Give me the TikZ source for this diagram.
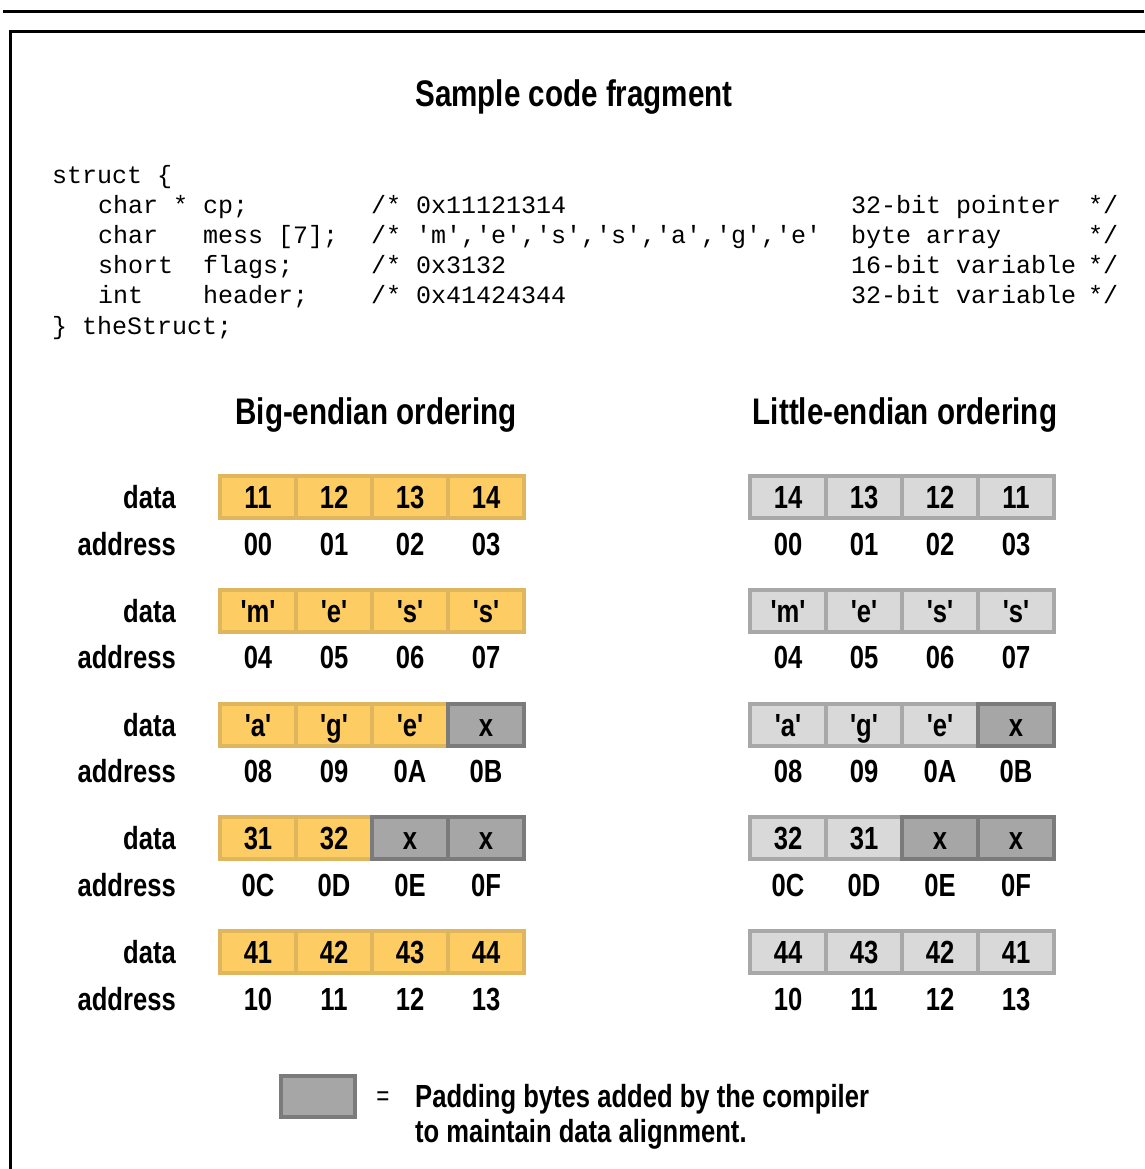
\documentclass[tikz,border=0pt]{standalone}
\usepackage{fontspec}
\newfontfamily\narrowfont{Liberation Sans}[FakeStretch=0.8,Ligatures=TeXOff]
\newfontfamily\codefont{Liberation Mono}[Ligatures=TeXOff]
\usetikzlibrary{positioning}

\definecolor{byteyellow}{HTML}{FDCC63}
\definecolor{byteyellowedge}{HTML}{DFB55E}
\definecolor{bytegray}{HTML}{D9D9D9}
\definecolor{bytegrayedge}{HTML}{A8A8A8}
\definecolor{padgray}{HTML}{A6A6A6}
\definecolor{padgrayedge}{HTML}{7B7B7B}

\newcommand\cellfont{\narrowfont\bfseries\fontsize{32}{38}\selectfont}
\newcommand\headfont{\narrowfont\bfseries\fontsize{37}{44}\selectfont}
\newcommand\listingfont{\codefont\fontsize{25}{30}\selectfont}

\begin{document}
\begin{tikzpicture}[x=1pt,y=-1pt,
	cell/.style={draw,line width=4pt,minimum width=76pt,minimum height=42pt,inner sep=0pt,
		text height=23pt,text depth=0pt,font=\cellfont},
	bigcell/.style={cell,fill=byteyellow,draw=byteyellowedge},
	littlecell/.style={cell,fill=bytegray,draw=bytegrayedge},
	padcell/.style={cell,fill=padgray,draw=padgrayedge},
	lbl/.style={anchor=east,inner sep=0pt,text height=23pt,text depth=0pt,font=\cellfont},
	addr/.style={inner sep=0pt,text height=23pt,text depth=0pt,font=\cellfont},
	head/.style={anchor=base,inner sep=0pt,font=\headfont},
	code/.style={anchor=base west,inner sep=0pt,font=\listingfont}]
	\useasboundingbox (0,0) rectangle (1144,1169);
	% page rule and frame
	\draw[line width=3.5pt] (3,11.5) -- (1144,11.5);
	\draw[line width=3pt] (10,1180) -- (10,31.5) -- (1160,31.5);
	\node[head] (title) at (574,107) {Sample code fragment};
	% the struct listing
	\node[code] (l1) at (52,183) {struct \{};
	\node[code] (l2a) at (98,213.2) {char};
	\node[code] (l2b) at (173,213.2) {*};
	\node[code] (l2c) at (203,213.2) {cp;};
	\node[code] (l2d) at (371,213.2) {/* 0x11121314};
	\node[code] (l2e) at (851,213.2) {32-bit pointer};
	\node[code] (l2f) at (1088,213.2) {*/};
	\node[code] (l3a) at (98,243.4) {char};
	\node[code] (l3b) at (203,243.4) {mess [7];};
	\node[code] (l3c) at (371,243.4) {/* 'm','e','s','s','a','g','e'};
	\node[code] (l3d) at (851,243.4) {byte array};
	\node[code] (l3e) at (1088,243.4) {*/};
	\node[code] (l4a) at (98,273.6) {short};
	\node[code] (l4b) at (203,273.6) {flags;};
	\node[code] (l4c) at (371,273.6) {/* 0x3132};
	\node[code] (l4d) at (851,273.6) {16-bit variable};
	\node[code] (l4e) at (1088,273.6) {*/};
	\node[code] (l5a) at (98,303.8) {int};
	\node[code] (l5b) at (203,303.8) {header;};
	\node[code] (l5c) at (371,303.8) {/* 0x41424344};
	\node[code] (l5d) at (851,303.8) {32-bit variable};
	\node[code] (l5e) at (1088,303.8) {*/};
	\node[code] (l6) at (52,334) {\} theStruct;};
	% byte layouts
	\node[head] (bighead) at (376,424) {Big-endian ordering};
	\node[head] (littlehead) at (905,424) {Little-endian ordering};
	\node[lbl] (data1) at (176,497) {data};
	\node[lbl] (address1) at (176,543.5) {address};
	\foreach \c/\bv/\bs/\lv/\ls/\av in {1/11/bigcell/14/littlecell/00,2/12/bigcell/13/littlecell/01,
		3/13/bigcell/12/littlecell/02,4/14/bigcell/11/littlecell/03}
	{
		\node[\bs] (big1\c) at ({182+76*\c},497) {\bv};
		\node[\ls] (little1\c) at ({712+76*\c},497) {\lv};
		\node[addr] (bigaddr1\c) at ({182+76*\c},543.5) {\av};
		\node[addr] (littleaddr1\c) at ({712+76*\c},543.5) {\av};
	}
	\node[lbl] (data2) at (176,610.75) {data};
	\node[lbl] (address2) at (176,657.25) {address};
	\foreach \c/\bv/\bs/\lv/\ls/\av in {1/'m'/bigcell/'m'/littlecell/04,2/'e'/bigcell/'e'/littlecell/05,
		3/'s'/bigcell/'s'/littlecell/06,4/'s'/bigcell/'s'/littlecell/07}
	{
		\node[\bs] (big2\c) at ({182+76*\c},610.75) {\bv};
		\node[\ls] (little2\c) at ({712+76*\c},610.75) {\lv};
		\node[addr] (bigaddr2\c) at ({182+76*\c},657.25) {\av};
		\node[addr] (littleaddr2\c) at ({712+76*\c},657.25) {\av};
	}
	\node[lbl] (data3) at (176,724.5) {data};
	\node[lbl] (address3) at (176,771) {address};
	\foreach \c/\bv/\bs/\lv/\ls/\av in {1/'a'/bigcell/'a'/littlecell/08,2/'g'/bigcell/'g'/littlecell/09,
		3/'e'/bigcell/'e'/littlecell/0A,4/x/padcell/x/padcell/0B}
	{
		\node[\bs] (big3\c) at ({182+76*\c},724.5) {\bv};
		\node[\ls] (little3\c) at ({712+76*\c},724.5) {\lv};
		\node[addr] (bigaddr3\c) at ({182+76*\c},771) {\av};
		\node[addr] (littleaddr3\c) at ({712+76*\c},771) {\av};
	}
	\node[lbl] (data4) at (176,838.25) {data};
	\node[lbl] (address4) at (176,884.75) {address};
	\foreach \c/\bv/\bs/\lv/\ls/\av in {1/31/bigcell/32/littlecell/0C,2/32/bigcell/31/littlecell/0D,
		3/x/padcell/x/padcell/0E,4/x/padcell/x/padcell/0F}
	{
		\node[\bs] (big4\c) at ({182+76*\c},838.25) {\bv};
		\node[\ls] (little4\c) at ({712+76*\c},838.25) {\lv};
		\node[addr] (bigaddr4\c) at ({182+76*\c},884.75) {\av};
		\node[addr] (littleaddr4\c) at ({712+76*\c},884.75) {\av};
	}
	\node[lbl] (data5) at (176,952) {data};
	\node[lbl] (address5) at (176,998.5) {address};
	\foreach \c/\bv/\bs/\lv/\ls/\av in {1/41/bigcell/44/littlecell/10,2/42/bigcell/43/littlecell/11,
		3/43/bigcell/42/littlecell/12,4/44/bigcell/41/littlecell/13}
	{
		\node[\bs] (big5\c) at ({182+76*\c},952) {\bv};
		\node[\ls] (little5\c) at ({712+76*\c},952) {\lv};
		\node[addr] (bigaddr5\c) at ({182+76*\c},998.5) {\av};
		\node[addr] (littleaddr5\c) at ({712+76*\c},998.5) {\av};
	}
	% key for the padding bytes
	\node[padcell,minimum width=74pt,minimum height=41pt] (padkey) at (318,1096.5) {};
	\node[inner sep=0pt,font=\narrowfont\fontsize{28}{30}\selectfont] (equals) at (383,1099) {=};
	\node[anchor=base west,inner sep=0pt,font=\cellfont] (keytext1) at (415,1107) {Padding bytes added by the compiler};
	\node[anchor=base west,inner sep=0pt,font=\cellfont] (keytext2) at (415,1142) {to maintain data alignment.};
\end{tikzpicture}
\end{document}
